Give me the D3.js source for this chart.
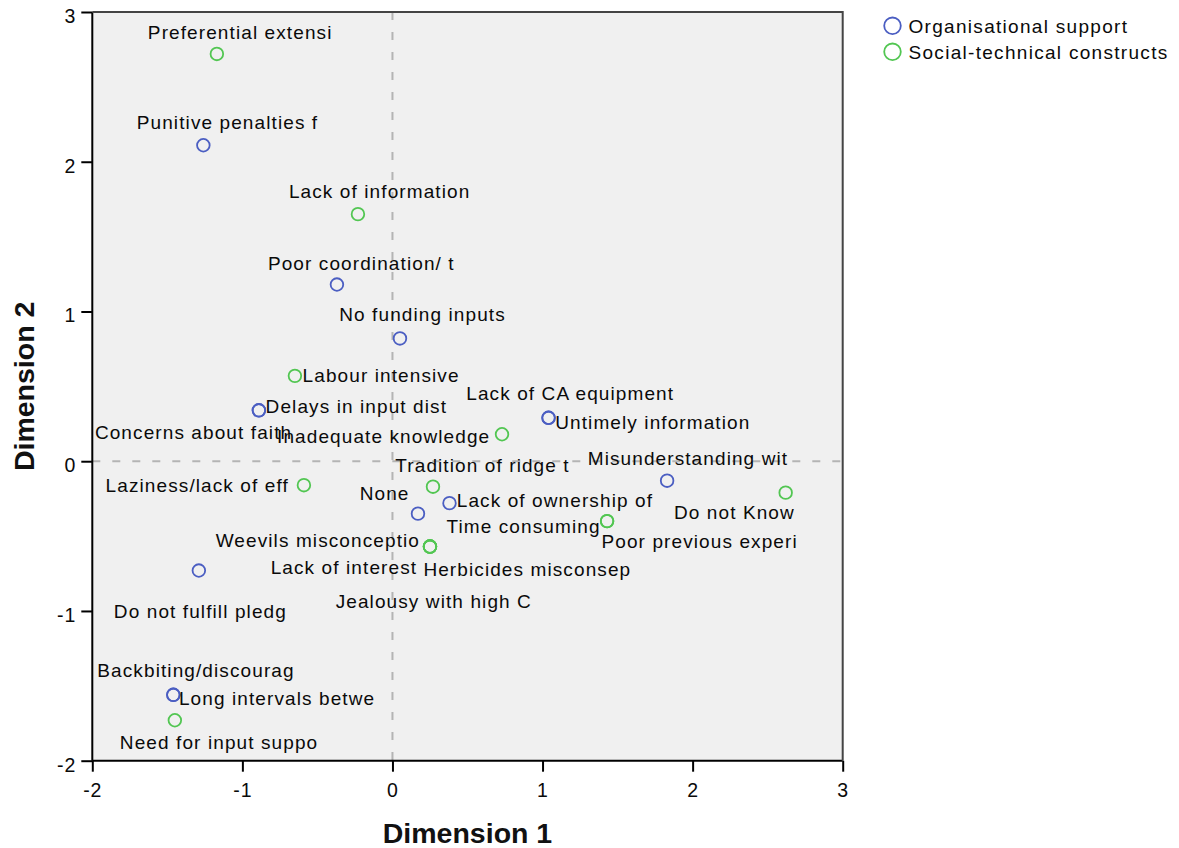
<!DOCTYPE html>
<html><head><meta charset="utf-8">
<script src="https://cdn.jsdelivr.net/npm/d3@7/dist/d3.min.js"></script>
<style>
body{margin:0;background:#fff;}
svg text{font-family:"Liberation Sans",Arial,sans-serif;}
</style></head><body>
<svg id="chart" width="1179" height="848"></svg>
<script>
// ---------------- DATA ----------------
const seriesNames = ["Organisational support", "Social-technical constructs"];

const orgLabels = ["Punitive penalties f", "Poor coordination/ t", "No funding inputs", "Delays in input dist",
  "Concerns about faith", "Lack of CA equipment", "Untimely information", "Misunderstanding wit",
  "Lack of ownership of", "None", "Do not fulfill pledg", "Backbiting/discourag", "Long intervals betwe"];
const orgDim1 = [-1.26, -0.37, 0.05, -0.89, -0.89, 1.04, 1.04, 1.83, 0.38, 0.17, -1.29, -1.46, -1.46];
const orgDim2 = [2.11, 1.18, 0.82, 0.34, 0.34, 0.29, 0.29, -0.13, -0.28, -0.35, -0.73, -1.56, -1.56];

const socLabels = ["Preferential extensi", "Lack of information", "Labour intensive", "Inadequate knowledge",
  "Laziness/lack of eff", "Tradition of ridge t", "Time consuming", "Poor previous experi", "Do not Know",
  "Weevils misconceptio", "Lack of interest", "Herbicides misconsep", "Jealousy with high C", "Need for input suppo"];
const socDim1 = [-1.17, -0.23, -0.65, 0.73, -0.59, 0.27, 1.43, 1.43, 2.62, 0.25, 0.25, 0.25, 0.25, -1.45];
const socDim2 = [2.72, 1.65, 0.57, 0.18, -0.16, -0.17, -0.40, -0.40, -0.21, -0.57, -0.57, -0.57, -0.57, -1.73];

const xTicks = [-2, -1, 0, 1, 2, 3];
const yTicks = [-2, -1, 0, 1, 2, 3];
const xTitle = "Dimension 1";
const yTitle = "Dimension 2";

// ---------------- LAYOUT ----------------
const colors = ["#4b5ec2", "#52c652"];
const plot = {left: 92.3, right: 842.7, top: 12, bottom: 760.7};
// label placement relative to point (pixels): [dx, dy of baseline]
const labelOffset = {
  "Punitive penalties f": [-66.6, -16.7], "Poor coordination/ t": [-69, -15], "No funding inputs": [-60.7, -17.3],
  "Delays in input dist": [6.7, 2.7], "Concerns about faith": [-164, 28.3], "Lack of CA equipment": [-82.3, -17.3],
  "Untimely information": [6.7, 11], "Misunderstanding wit": [-79.4, -15.7], "Lack of ownership of": [7.3, 4],
  "None": [-58.3, -14], "Do not fulfill pledg": [-85, 47.6], "Backbiting/discourag": [-76, -17.7],
  "Long intervals betwe": [5.6, 10],
  "Preferential extensi": [-69, -15], "Lack of information": [-69, -16], "Labour intensive": [7.7, 6],
  "Inadequate knowledge": [-225, 9], "Laziness/lack of eff": [-198.3, 6.7], "Tradition of ridge t": [-37.7, -14.4],
  "Time consuming": [-160.6, 12.3], "Poor previous experi": [-5.6, 27.3], "Do not Know": [-111.7, 26.7],
  "Weevils misconceptio": [-214.3, 0], "Lack of interest": [-159.3, 27.6], "Herbicides misconsep": [-6.6, 29.3],
  "Jealousy with high C": [-94.3, 61.6], "Need for input suppo": [-55, 28.3]
};

const svg = d3.select("#chart");
const x = d3.scaleLinear().domain([-2, 3]).range([plot.left, plot.right]);
const y = d3.scaleLinear().domain([-2, 3]).range([plot.bottom, plot.top]);

svg.append("rect").attr("x", plot.left).attr("y", plot.top)
  .attr("width", plot.right - plot.left).attr("height", plot.bottom - plot.top)
  .attr("fill", "#f0f0f0");

// reference lines
svg.append("line").attr("x1", x(0)).attr("x2", x(0)).attr("y1", plot.top).attr("y2", plot.bottom)
  .attr("stroke", "#b4b4b4").attr("stroke-width", 2).attr("stroke-dasharray", "8,12");
svg.append("line").attr("x1", plot.left).attr("x2", plot.right).attr("y1", y(0)).attr("y2", y(0))
  .attr("stroke", "#b4b4b4").attr("stroke-width", 2).attr("stroke-dasharray", "8,12");

const series = [
  {name: seriesNames[0], labels: orgLabels, d1: orgDim1, d2: orgDim2, color: colors[0]},
  {name: seriesNames[1], labels: socLabels, d1: socDim1, d2: socDim2, color: colors[1]}
];
const points = [];
series.forEach(s => s.labels.forEach((l, i) => points.push({label: l, d1: s.d1[i], d2: s.d2[i], color: s.color})));

svg.append("g").selectAll("circle").data(points).join("circle")
  .attr("cx", d => x(d.d1)).attr("cy", d => y(d.d2)).attr("r", 6.3)
  .attr("fill", "none").attr("stroke", d => d.color).attr("stroke-width", 1.8);

svg.append("g").selectAll("text").data(points).join("text")
  .attr("x", d => x(d.d1) + labelOffset[d.label][0])
  .attr("y", d => y(d.d2) + labelOffset[d.label][1])
  .attr("font-size", 19).attr("letter-spacing", "1.1px").attr("fill", "#0a0a0a")
  .text(d => d.label);

// axes
const fmt = d => String(d);
const gx = svg.append("g").attr("transform", `translate(0,${plot.bottom})`)
  .call(d3.axisBottom(x).tickValues(xTicks).tickFormat(fmt).tickSize(11).tickPadding(11));
const gy = svg.append("g").attr("transform", `translate(${plot.left},0)`)
  .call(d3.axisLeft(y).tickValues(yTicks).tickFormat(fmt).tickSize(11).tickPadding(5));
[gx, gy].forEach(g => {
  g.select(".domain").attr("stroke", "#000").attr("stroke-width", 2);
  g.selectAll(".tick line").attr("stroke", "#000").attr("stroke-width", 2);
  g.selectAll(".tick text").attr("font-size", 19.5).attr("fill", "#0a0a0a").attr("letter-spacing", "1px")
    .attr("font-family", '"Liberation Sans",Arial,sans-serif');
});
gy.selectAll(".tick text").attr("dy", "0.53em");
gx.select(".domain").attr("d", `M${plot.left},0H${plot.right}`);
gy.select(".domain").attr("d", `M0,${plot.top}V${plot.bottom}`);

// frame top/right
svg.append("path").attr("d", `M${plot.left},${plot.top}H${plot.right}V${plot.bottom}`)
  .attr("fill", "none").attr("stroke", "#444").attr("stroke-width", 2);

// titles
svg.append("text").attr("x", (plot.left + plot.right) / 2).attr("y", 843)
  .attr("text-anchor", "middle").attr("font-size", 28.5).attr("font-weight", "bold").attr("fill", "#111")
  .text(xTitle);
svg.append("text").attr("transform", `translate(33.5,${(plot.top + plot.bottom) / 2}) rotate(-90)`)
  .attr("text-anchor", "middle").attr("font-size", 28.5).attr("font-weight", "bold").attr("fill", "#111")
  .text(yTitle);

// legend
const lg = svg.append("g").selectAll("g").data(series).join("g")
  .attr("transform", (d, i) => `translate(892.5,${25.8 + i * 26})`);
lg.append("circle").attr("r", 8.3).attr("fill", "none").attr("stroke", d => d.color).attr("stroke-width", 1.8);
lg.append("text").attr("x", 16).attr("y", 7.5).attr("font-size", 19).attr("letter-spacing", "1.3px")
  .attr("fill", "#0a0a0a").text(d => d.name);
</script>
</body></html>
